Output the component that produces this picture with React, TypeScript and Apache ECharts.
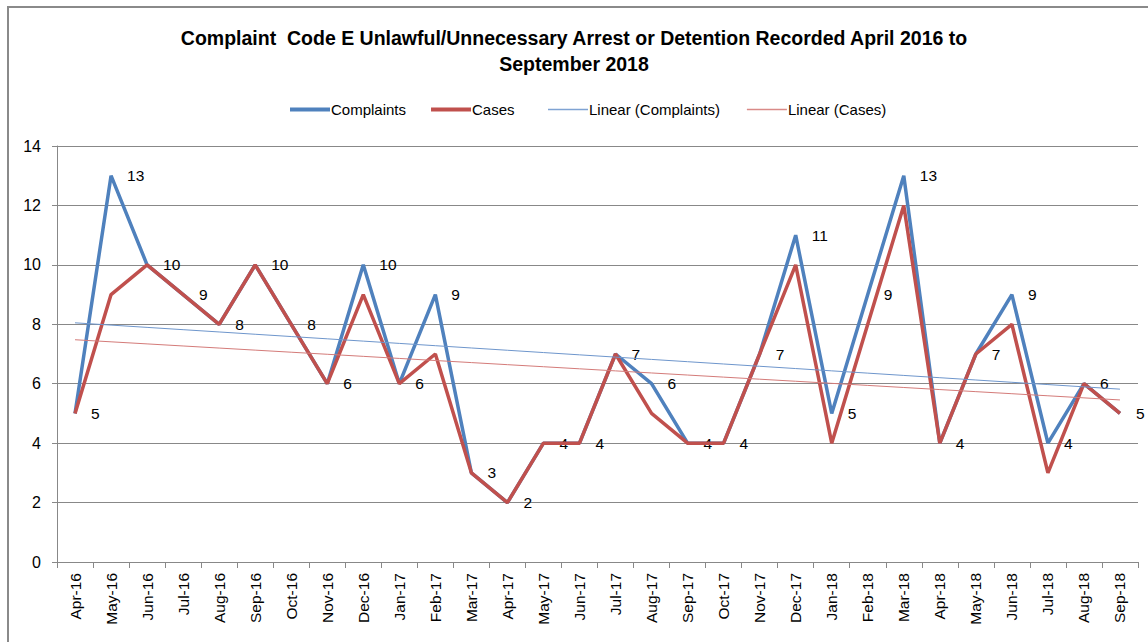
import React, { useEffect, useRef } from "react";
import * as echarts from "echarts";

const months = [
  "Apr-16", "May-16", "Jun-16", "Jul-16", "Aug-16", "Sep-16", "Oct-16", "Nov-16", "Dec-16", "Jan-17",
  "Feb-17", "Mar-17", "Apr-17", "May-17", "Jun-17", "Jul-17", "Aug-17", "Sep-17", "Oct-17", "Nov-17",
  "Dec-17", "Jan-18", "Feb-18", "Mar-18", "Apr-18", "May-18", "Jun-18", "Jul-18", "Aug-18", "Sep-18",
];
const complaints = [5, 13, 10, 9, 8, 10, 8, 6, 10, 6, 9, 3, 2, 4, 4, 7, 6, 4, 4, 7, 11, 5, 9, 13, 4, 7, 9, 4, 6, 5];
const cases = [5, 9, 10, 9, 8, 10, 8, 6, 9, 6, 7, 3, 2, 4, 4, 7, 5, 4, 4, 7, 10, 4, 8, 12, 4, 7, 8, 3, 6, 5];
const yTicks = [0, 2, 4, 6, 8, 10, 12, 14];
const titleLines = [
  "Complaint  Code E Unlawful/Unnecessary Arrest or Detention Recorded April 2016 to",
  "September 2018",
];

function linearTrend(vals: number[]): number[] {
  const n = vals.length;
  let sx = 0, sy = 0, sxy = 0, sxx = 0;
  vals.forEach((v, i) => { sx += i; sy += v; sxy += i * v; sxx += i * i; });
  const slope = (n * sxy - sx * sy) / (n * sxx - sx * sx);
  const intercept = (sy - slope * sx) / n;
  return vals.map((_, i) => intercept + slope * i);
}

const FONT = "'Liberation Sans', Arial, sans-serif";

export default function App() {
  const ref = useRef<HTMLDivElement>(null);
  useEffect(() => {
    if (!ref.current) return;
    const chart = echarts.init(ref.current, undefined, { renderer: "svg" });
    const legendText = { fontFamily: FONT, fontSize: 15, color: "#000", padding: [0, 0, 0, -4] };
    chart.setOption({
      animation: false,
      backgroundColor: "#ffffff",
      textStyle: { fontFamily: FONT },
      graphic: [
        {
          type: "rect",
          shape: { x: 8, y: 7, width: 1160, height: 660 },
          style: { fill: "none", stroke: "#8a8a8a", lineWidth: 2 },
          silent: true,
        },
      ],
      title: {
        text: titleLines.join("\n"),
        left: "center",
        top: 20,
        textStyle: { fontFamily: FONT, fontSize: 19.5, fontWeight: "bold", color: "#000", lineHeight: 26 },
      },
      legend: [
        {
          top: 97,
          left: 285,
          itemWidth: 40,
          itemHeight: 4,
          itemGap: 25,
          icon: "rect",
          textStyle: legendText,
          data: ["Complaints", "Cases"],
        },
        {
          top: 97,
          left: 543,
          itemWidth: 40,
          itemHeight: 1.5,
          itemGap: 27,
          icon: "rect",
          textStyle: legendText,
          data: ["Linear (Complaints)", "Linear (Cases)"],
        },
      ],
      grid: { left: 57, right: 10, top: 146, bottom: 80, containLabel: false },
      xAxis: {
        type: "category",
        data: months,
        boundaryGap: true,
        axisLine: { lineStyle: { color: "#888", width: 1 } },
        axisTick: { show: true, alignWithLabel: false, length: 6, lineStyle: { color: "#888" } },
        axisLabel: { rotate: 90, fontSize: 15.5, color: "#000", fontFamily: FONT, margin: 11, interval: 0 },
        splitLine: { show: false },
      },
      yAxis: {
        type: "value",
        min: yTicks[0],
        max: yTicks[yTicks.length - 1],
        interval: 2,
        axisLine: { show: true, lineStyle: { color: "#888", width: 1 } },
        axisTick: { show: true, length: 5, lineStyle: { color: "#888" } },
        axisLabel: { fontSize: 16, color: "#000", fontFamily: FONT, margin: 16 },
        splitLine: { lineStyle: { color: "#888", width: 1 } },
      },
      series: [
        {
          name: "Complaints",
          type: "line",
          data: complaints,
          symbol: "circle",
          symbolSize: 0,
          showSymbol: true,
          color: "#4F81BD",
          lineStyle: { width: 3.5, color: "#4F81BD" },
          label: {
            show: true,
            position: "right",
            distance: 16,
            fontSize: 15.5,
            color: "#000",
            fontFamily: FONT,
          },
          z: 2,
        },
        {
          name: "Cases",
          type: "line",
          data: cases,
          symbol: "none",
          color: "#C0504D",
          lineStyle: { width: 3.5, color: "#C0504D" },
          z: 3,
        },
        {
          name: "Linear (Complaints)",
          type: "line",
          data: linearTrend(complaints),
          symbol: "none",
          color: "#7FA3D3",
          lineStyle: { width: 1, color: "#6E96CC" },
          z: 4,
        },
        {
          name: "Linear (Cases)",
          type: "line",
          data: linearTrend(cases),
          symbol: "none",
          color: "#D98A88",
          lineStyle: { width: 1, color: "#D47B79" },
          z: 4,
        },
      ],
    });
    return () => chart.dispose();
  }, []);
  return (
    <div
      ref={ref}
      style={{ position: "fixed", left: 0, top: 0, width: 1148, height: 642 }}
    />
  );
}
